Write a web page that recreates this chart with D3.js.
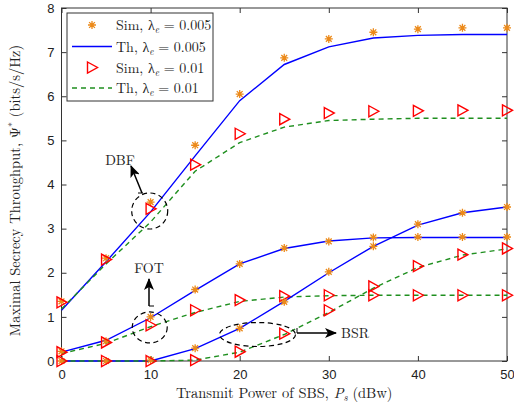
<!DOCTYPE html>
<html>
<head>
<meta charset="utf-8">
<script src="https://cdn.jsdelivr.net/npm/d3@7"></script>
<style>
body { margin: 0; background: #fff; }
svg text { fill: #222; }
</style>
</head>
<body>
<svg id="chart"></svg>
<script>
// transmit power of SBS (dBw)
var power = [0, 5, 10, 15, 20, 25, 30, 35, 40, 45, 50];

// DBF
var dbfSim005 = [1.35, 2.33, 3.6, 4.89, 6.05, 6.87, 7.3, 7.45, 7.52, 7.55, 7.55];
var dbfTh005  = [1.15, 2.25, 3.38, 4.65, 5.9, 6.72, 7.12, 7.32, 7.38, 7.4, 7.4];
var dbfSim01  = [1.33, 2.3, 3.45, 4.45, 5.15, 5.48, 5.62, 5.66, 5.67, 5.68, 5.68];
var dbfTh01   = [1.18, 2.2, 3.15, 4.3, 4.95, 5.3, 5.45, 5.48, 5.5, 5.5, 5.5];
// FOT
var fotSim005 = [0.22, 0.45, 1.0, 1.62, 2.2, 2.56, 2.71, 2.8, 2.81, 2.81, 2.81];
var fotTh005  = [0.2, 0.47, 0.98, 1.6, 2.2, 2.55, 2.72, 2.79, 2.8, 2.8, 2.8];
var fotSim01  = [0.2, 0.42, 0.81, 1.15, 1.38, 1.47, 1.49, 1.49, 1.49, 1.49, 1.49];
var fotTh01   = [0.17, 0.4, 0.78, 1.1, 1.35, 1.45, 1.48, 1.49, 1.49, 1.49, 1.49];
// BSR
var bsrSim005 = [0, 0, 0.02, 0.29, 0.74, 1.34, 2.02, 2.6, 3.1, 3.36, 3.49];
var bsrTh005  = [0, 0, 0, 0.28, 0.74, 1.35, 2.0, 2.6, 3.08, 3.36, 3.49];
var bsrSim01  = [0, 0, 0, 0.02, 0.21, 0.62, 1.15, 1.69, 2.15, 2.41, 2.55];
var bsrTh01   = [0, 0, 0, 0.02, 0.2, 0.6, 1.1, 1.65, 2.12, 2.4, 2.54];

var xTicks = [0, 10, 20, 30, 40, 50];
var yTicks = [0, 1, 2, 3, 4, 5, 6, 7, 8];

var legendLabels = ["Sim, ", "Th, ", "Sim, ", "Th, "];
var legendValues = ["0.005", "0.005", "0.01", "0.01"];

var W = 514, H = 406;
var margin = {top: 8, right: 7, bottom: 45, left: 61.5};

var svg = d3.select("#chart").attr("width", W).attr("height", H);

var x = d3.scaleLinear().domain([0, 50]).range([margin.left, W - margin.right]);
var y = d3.scaleLinear().domain([0, 8]).range([H - margin.bottom, margin.top]);

var orange = "#ec8a1a", blue = "#0000ff", red = "#ff0000", green = "#1f8f1f";
var axisColor = "#333";

// axes
function styleAxis(g) {
    g.select(".domain").remove();
    g.selectAll("line").attr("stroke", axisColor);
    g.selectAll("text").attr("font-family", "Liberation Sans, Arial, sans-serif")
        .attr("font-size", 13).attr("fill", "#222");
}
svg.append("g").attr("transform", "translate(0," + y(0) + ")")
    .call(d3.axisBottom(x).tickValues(xTicks).tickSize(-5).tickPadding(9))
    .call(styleAxis);
svg.append("g").attr("transform", "translate(0," + y(8) + ")")
    .call(d3.axisTop(x).tickValues(xTicks).tickSize(-5).tickFormat(""))
    .call(styleAxis);
svg.append("g").attr("transform", "translate(" + x(0) + ",0)")
    .call(d3.axisLeft(y).tickValues(yTicks).tickSize(-5).tickPadding(7))
    .call(styleAxis);
svg.append("g").attr("transform", "translate(" + x(50) + ",0)")
    .call(d3.axisRight(y).tickValues(yTicks).tickSize(-5).tickFormat(""))
    .call(styleAxis);

svg.append("rect")
    .attr("x", x(0)).attr("y", y(8))
    .attr("width", x(50) - x(0)).attr("height", y(0) - y(8))
    .attr("fill", "none").attr("stroke", axisColor).attr("stroke-width", 1);

// axis labels
var serif = "Latin Modern Roman, Liberation Serif, DejaVu Serif, serif";
var xl = svg.append("text").attr("x", (x(0) + x(50)) / 2).attr("y", 398)
    .attr("text-anchor", "middle").attr("font-family", serif).attr("font-size", 14.5);
xl.append("tspan").text("Transmit Power of SBS, ");
xl.append("tspan").attr("font-style", "italic").text("P");
xl.append("tspan").attr("font-style", "italic").attr("font-size", 10).attr("dy", 3).text("s");
xl.append("tspan").attr("dy", -3).text(" (dBw)");

var yl = svg.append("text")
    .attr("transform", "translate(20," + (y(4) + 6) + ") rotate(-90)")
    .attr("text-anchor", "middle").attr("font-family", serif).attr("font-size", 14.5);
yl.append("tspan").text("Maximal Secrecy Throughput, Ψ");
yl.append("tspan").attr("font-size", 10).attr("dy", -5).text("*");
yl.append("tspan").attr("dy", 5).text(" (bits/s/Hz)");

// series
var lineGen = d3.line().x(function(d, i) { return x(power[i]); }).y(function(d) { return y(d); });

function thLine(vals, color, dashed) {
    svg.append("path").datum(vals).attr("d", lineGen)
        .attr("fill", "none").attr("stroke", color).attr("stroke-width", 1.4)
        .attr("stroke-dasharray", dashed ? "5,4" : null);
}
var starPath = "M-4,0L4,0M0,-4L0,4M-2.9,-2.9L2.9,2.9M-2.9,2.9L2.9,-2.9";
var triPath = "M-4.5,-5.5L5.5,0L-4.5,5.5Z";
function simMarks(vals, kind) {
    svg.append("g").selectAll("path").data(vals).enter().append("path")
        .attr("transform", function(d, i) { return "translate(" + x(power[i]) + "," + y(d) + ")"; })
        .attr("d", kind === "star" ? starPath : triPath)
        .attr("fill", "none")
        .attr("stroke", kind === "star" ? orange : red)
        .attr("stroke-width", kind === "star" ? 1.3 : 1.4);
}

[[dbfTh005, dbfTh01], [fotTh005, fotTh01], [bsrTh005, bsrTh01]].forEach(function(p) {
    thLine(p[0], blue, false);
    thLine(p[1], green, true);
});
[[dbfSim005, dbfSim01], [fotSim005, fotSim01], [bsrSim005, bsrSim01]].forEach(function(p) {
    simMarks(p[0], "star");
    simMarks(p[1], "tri");
});

// annotations
var defs = svg.append("defs");
defs.append("marker").attr("id", "head").attr("viewBox", "0 0 12 10")
    .attr("refX", 11).attr("refY", 5).attr("markerWidth", 12).attr("markerHeight", 10)
    .attr("markerUnits", "userSpaceOnUse").attr("orient", "auto")
    .append("path").attr("d", "M0,0L12,5L0,10L3,5Z").attr("fill", "#000");

function ellipse(cx, cy, rx, ry) {
    svg.append("ellipse").attr("cx", x(cx)).attr("cy", y(cy))
        .attr("rx", rx).attr("ry", ry)
        .attr("fill", "none").attr("stroke", "#000").attr("stroke-width", 1.2)
        .attr("stroke-dasharray", "5,3.5");
}
function arrow(x1, y1, x2, y2) {
    svg.append("line").attr("x1", x1).attr("y1", y1).attr("x2", x2).attr("y2", y2)
        .attr("stroke", "#000").attr("stroke-width", 1.5).attr("marker-end", "url(#head)");
}
function label(tx, ty, t, anchor) {
    svg.append("text").attr("x", tx).attr("y", ty).attr("text-anchor", anchor || "middle")
        .attr("font-family", serif).attr("font-size", 14).text(t);
}

ellipse(9.9, 3.4, 18, 18);
svg.append("path").attr("d", "M138,193L143,193").attr("stroke", "#000").attr("stroke-width", 1);
arrow(142, 193, 131, 166);
label(120, 165, "DBF");

ellipse(9.9, 0.76, 17.5, 15.5);
svg.append("path").attr("d", "M149,306L154,306").attr("stroke", "#000").attr("stroke-width", 1);
arrow(149, 306, 149, 279);
label(149, 273, "FOT");

ellipse(22.0, 0.6, 38, 12);
svg.append("path").attr("d", "M297,328L297,333").attr("stroke", "#000").attr("stroke-width", 1);
arrow(297, 333, 336, 333);
label(341, 338, "BSR", "start");

// legend
var lg = svg.append("g");
lg.append("rect").attr("x", 67).attr("y", 13).attr("width", 146).attr("height", 88)
    .attr("fill", "#fff").attr("stroke", axisColor).attr("stroke-width", 1);
var rows = [25, 46.5, 67.5, 88];
rows.forEach(function(ry, i) {
    if (i === 0) lg.append("path").attr("transform", "translate(92," + ry + ")").attr("d", starPath)
        .attr("fill", "none").attr("stroke", orange).attr("stroke-width", 1.3);
    if (i === 2) lg.append("path").attr("transform", "translate(92," + ry + ")").attr("d", triPath)
        .attr("fill", "none").attr("stroke", red).attr("stroke-width", 1.4);
    if (i === 1 || i === 3) lg.append("line").attr("x1", 72).attr("x2", 112).attr("y1", ry).attr("y2", ry)
        .attr("stroke", i === 1 ? blue : green).attr("stroke-width", 1.4)
        .attr("stroke-dasharray", i === 3 ? "5,4" : null);
    var t = lg.append("text").attr("x", 116).attr("y", ry + 5)
        .attr("font-family", serif).attr("font-size", 14);
    t.append("tspan").text(legendLabels[i] + "λ");
    t.append("tspan").attr("font-size", 9.5).attr("font-style", "italic").attr("dy", 3).text("e");
    t.append("tspan").attr("dy", -3).text(" = " + legendValues[i]);
});
</script>
</body>
</html>
